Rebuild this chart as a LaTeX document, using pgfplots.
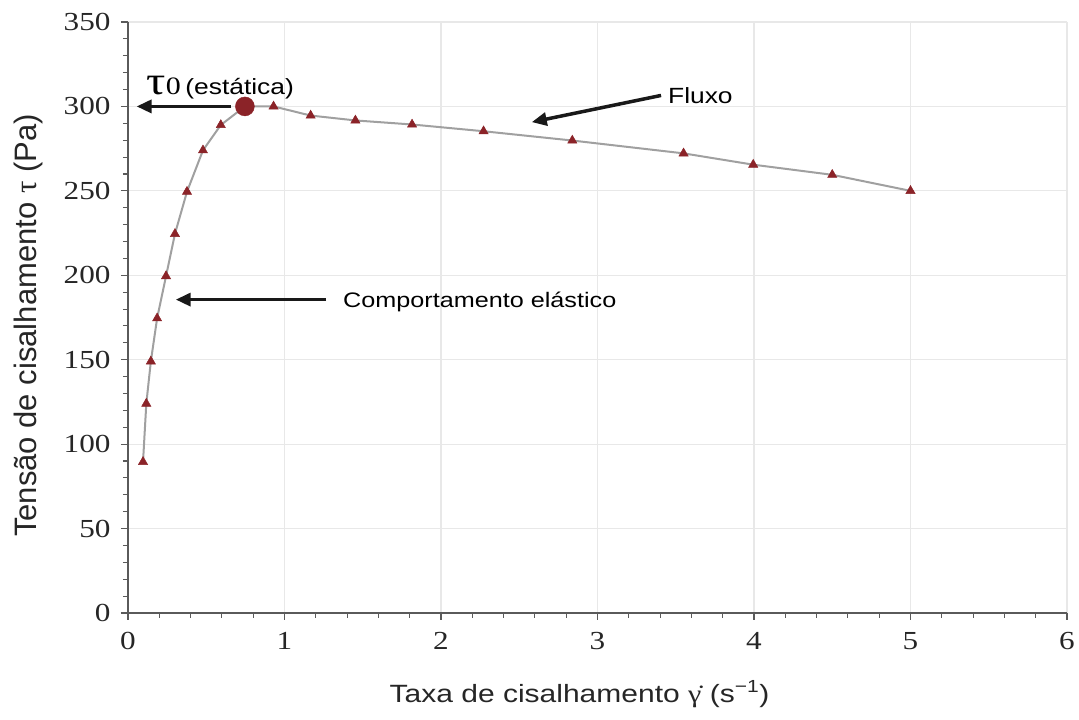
\documentclass[border=0pt]{standalone}
\usepackage{fontspec}
\setmainfont{Liberation Sans}
\newfontfamily\serif{Liberation Serif}
\usepackage{graphicx}
\usepackage{pgfplots}
\pgfplotsset{compat=1.18}
\usetikzlibrary{arrows.meta}

\definecolor{markred}{HTML}{8B2328}
\definecolor{linegray}{HTML}{A0A0A0}
\definecolor{gridgray}{HTML}{E8E8E8}
\definecolor{axisgray}{HTML}{5A5A5A}

% wide lettering used throughout the figure
\newcommand{\wide}[1]{\scalebox{1.2}[1]{#1}}

\begin{document}
\begin{tikzpicture}
\begin{axis}[
  at={(128pt,107pt)}, anchor=south west,
  scale only axis,
  width=939pt, height=591pt,
  xmin=0, xmax=6, ymin=0, ymax=350,
  xtick={0,1,...,6}, ytick={0,50,...,350},
  minor x tick num=4, minor y tick num=4,
  grid=major,
  major grid style={gridgray, line width=1.2pt},
  axis lines=left,
  axis line style={-, axisgray, line width=1.3pt},
  tick style={axisgray, line width=1.1pt},
  tick align=outside,
  major tick length=7pt, minor tick length=5pt,
  xticklabel={\wide{\pgfmathprintnumber{\tick}}},
  yticklabel={\wide{\pgfmathprintnumber{\tick}}},
  /pgf/number format/assume math mode=true,
  ticklabel style={font=\serif\fontsize{26}{28}\selectfont, text=black!85},
  xticklabel style={yshift=-9pt},
  yticklabel style={xshift=-7pt},
  xlabel={\wide{Taxa de cisalhamento {\serif γ̇} (s\textsuperscript{−1})}},
  ylabel={Tensão de cisalhamento {\serif τ} (Pa)},
  xlabel style={font=\fontsize{25}{28}\selectfont, text=black!85, yshift=-24pt, xshift=-18pt},
  ylabel style={font=\fontsize{31}{34}\selectfont, text=black!85, yshift=14pt, xshift=-8pt},
  clip=false,
]
% measured curve: elastic rise followed by flow
\addplot[linegray, line width=2pt, mark=triangle*, mark size=5.3pt,
  mark options={markred, draw=markred, line width=0.5pt}]
  coordinates {
  (0.096,89.5) (0.117,124) (0.146,149) (0.186,174.5) (0.243,199.5)
  (0.300,224.5) (0.377,249.5) (0.479,274) (0.593,289)
};
\addplot[linegray, line width=2pt, forget plot] coordinates {
  (0.593,289) (0.747,300) (0.930,300)
};
\addplot[linegray, line width=2pt, mark=triangle*, mark size=5.3pt,
  mark options={markred, draw=markred, line width=0.5pt}]
  coordinates {
  (0.930,300) (1.167,294.6) (1.453,291.7) (1.815,289.3) (2.272,285.3)
  (2.839,279.8) (3.550,272.2) (3.995,265.5) (4.500,259.5) (5.000,250)
};
% static yield stress
\addplot[only marks, mark=*, mark size=9.5pt, markred,
  mark options={fill=markred, draw=markred}]
  coordinates {(0.747,300)};

% annotations
\draw[-{Triangle[length=15pt,width=13pt]}, line width=3.5pt, black!90]
  (axis cs:0.66,300) -- (axis cs:0.055,300);
\node[anchor=base west, inner sep=0pt] at (axis cs:0.118,307)
  {\wide{{\serif\fontsize{40}{40}\selectfont τ}{\serif\fontsize{25}{25}\selectfont 0}%
   \fontsize{22}{24}\selectfont\,(estática)}};
\draw[-{Triangle[length=15pt,width=13pt]}, line width=3.5pt, black!90]
  (axis cs:3.406,306.5) -- (axis cs:2.58,290.7);
\node[anchor=west, inner sep=0pt, font=\fontsize{22}{24}\selectfont]
  at (axis cs:3.45,306.5) {\wide{Fluxo}};
\draw[-{Triangle[length=15pt,width=13pt]}, line width=3.5pt, black!90]
  (axis cs:1.266,185.6) -- (axis cs:0.305,185.6);
\node[anchor=west, inner sep=0pt, font=\fontsize{21}{24}\selectfont]
  at (axis cs:1.374,184.5) {\wide{Comportamento elástico}};
\end{axis}
\pgfresetboundingbox
\path (0,0) rectangle (1079pt,720pt);
\end{tikzpicture}
\end{document}
